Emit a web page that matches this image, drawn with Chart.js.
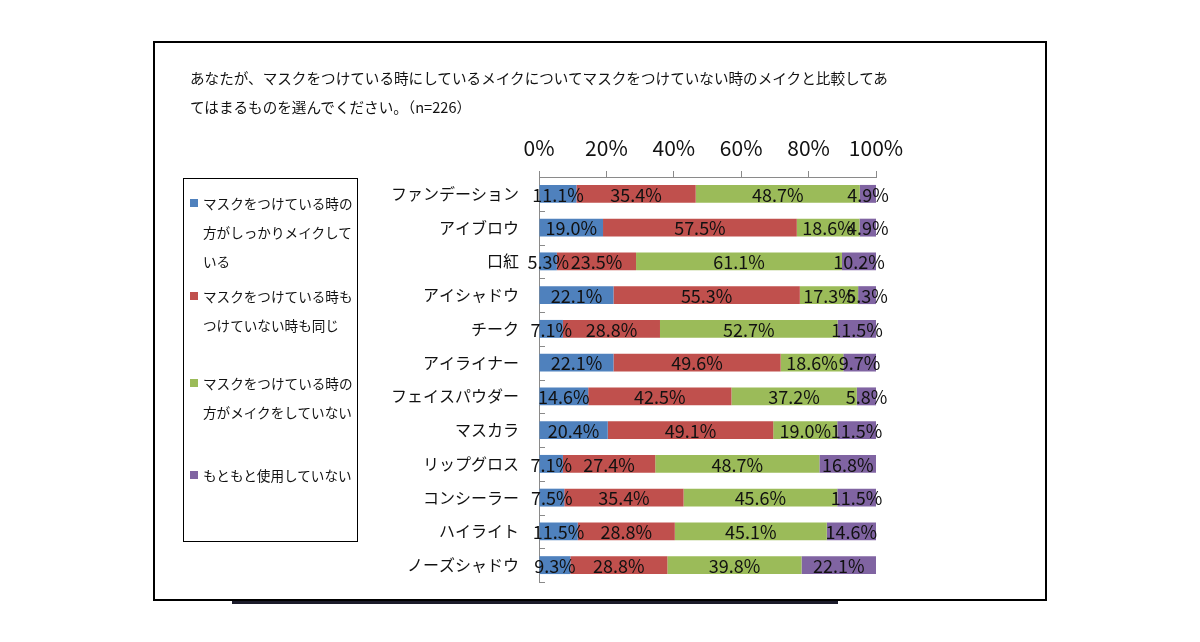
<!DOCTYPE html>
<html>
<head>
<meta charset="utf-8">
<script src="https://cdn.jsdelivr.net/npm/chart.js@4"></script>
<style>
  body { margin: 0; background: #fff; font-family: "Noto Sans CJK JP", sans-serif; }
  #wrap { position: relative; width: 1200px; height: 642px; overflow: hidden; }
  #c { position: absolute; left: 0; top: 0; }
  .frame { position: absolute; left: 153px; top: 41px; width: 890px; height: 556px; border: 2px solid #000; }
  .under { position: absolute; left: 232px; top: 601px; width: 606px; height: 3px; background: #1b1b2a; }
  .title { position: absolute; left: 190px; top: 63px; font-size: 14.6px; line-height: 29px; color: #111; white-space: nowrap; }
  .legend { position: absolute; left: 183px; top: 178px; width: 173px; height: 362px; border: 1.5px solid #000; }
  .item { position: absolute; left: 6px; width: 165px; font-size: 13.6px; line-height: 29px; color: #111; }
  .item i { display: inline-block; width: 8px; height: 8px; margin-right: 5px; vertical-align: 2px; }
  .item span { display: inline-block; width: 150px; vertical-align: top; }
</style>
</head>
<body>
<div id="wrap">
  <canvas id="c" width="1200" height="642"></canvas>
  <div class="title">あなたが、マスクをつけている時にしているメイクについてマスクをつけていない時のメイクと比較してあ<br>てはまるものを選んでください。（n=226）</div>
  <div class="legend" id="legend"></div>
  <div class="frame"></div>
  <div class="under"></div>
</div>
<script>
$ = (s) => document.querySelector(s)

// カテゴリ
var items = ['ファンデーション', 'アイブロウ', '口紅', 'アイシャドウ', 'チーク', 'アイライナー',
    'フェイスパウダー', 'マスカラ', 'リップグロス', 'コンシーラー', 'ハイライト', 'ノーズシャドウ']

// 系列名
var seriesNames = [
    'マスクをつけている時の方がしっかりメイクしている',
    'マスクをつけている時もつけていない時も同じ',
    'マスクをつけている時の方がメイクをしていない',
    'もともと使用していない'
]

// 値 (%)
var moreMakeup = [11.1, 19.0, 5.3, 22.1, 7.1, 22.1, 14.6, 20.4, 7.1, 7.5, 11.5, 9.3]
var same = [35.4, 57.5, 23.5, 55.3, 28.8, 49.6, 42.5, 49.1, 27.4, 35.4, 28.8, 28.8]
var lessMakeup = [48.7, 18.6, 61.1, 17.3, 52.7, 18.6, 37.2, 19.0, 48.7, 45.6, 45.1, 39.8]
var notUsed = [4.9, 4.9, 10.2, 5.3, 11.5, 9.7, 5.8, 11.5, 16.8, 11.5, 14.6, 22.1]

var xTicks = [0, 20, 40, 60, 80, 100]

var colors = ['#4F81BD', '#C0504D', '#9BBB59', '#8064A2']
var allValues = [moreMakeup, same, lessMakeup, notUsed]

// 凡例 (HTML)
var legendTops = [10, 103, 190, 282]
var legendLines = [
    ['マスクをつけている時の', '方がしっかりメイクして', 'いる'],
    ['マスクをつけている時も', 'つけていない時も同じ'],
    ['マスクをつけている時の', '方がメイクをしていない'],
    ['もともと使用していない']
]
seriesNames.forEach((name, i) => {
    var d = document.createElement('div')
    d.className = 'item'
    d.style.top = legendTops[i] + 'px'
    d.title = name
    d.innerHTML = `<i style="background:${colors[i]}"></i><span>${legendLines[i].join('<br>')}</span>`
    $('#legend').appendChild(d)
})

// 値ラベル
var valueLabels = {
    id: 'valueLabels',
    afterDatasetsDraw: (chart) => {
        var ctx = chart.ctx
        ctx.save()
        ctx.font = '18px "Noto Sans CJK JP", sans-serif'
        ctx.fillStyle = '#111'
        ctx.textAlign = 'center'
        ctx.textBaseline = 'middle'
        chart.data.datasets.forEach((ds, i) => {
            chart.getDatasetMeta(i).data.forEach((el, j) => {
                ctx.fillText(ds.data[j].toFixed(1) + '%', (el.x + el.base) / 2, el.y + 1)
            })
        })
        ctx.restore()
    }
}

// 縦軸の内側目盛り
var innerTicks = {
    id: 'innerTicks',
    afterDraw: (chart) => {
        var ctx = chart.ctx
        var y = chart.scales.y
        ctx.save()
        ctx.strokeStyle = '#8a8a8a'
        ctx.lineWidth = 1
        ctx.beginPath()
        for (var i = 0; i <= items.length; i++) {
            var py = Math.round(y.getPixelForValue(i - 0.5)) + 0.5
            ctx.moveTo(y.right, py)
            ctx.lineTo(y.right + 6, py)
        }
        ctx.stroke()
        ctx.restore()
    }
}

var chart = new Chart($('#c'), {
    type: 'bar',
    data: {
        labels: items,
        datasets: seriesNames.map((name, i) => ({
            label: name,
            data: allValues[i],
            backgroundColor: colors[i],
            borderWidth: 0,
            barPercentage: 0.53,
            categoryPercentage: 1
        }))
    },
    options: {
        indexAxis: 'y',
        responsive: false,
        animation: false,
        layout: { padding: { left: 379, right: 324, top: 127, bottom: 60 } },
        plugins: {
            legend: { display: false },
            tooltip: { enabled: false }
        },
        scales: {
            x: {
                position: 'top',
                stacked: true,
                min: 0,
                max: 100,
                afterBuildTicks: (s) => { s.ticks = xTicks.map(v => ({ value: v })) },
                afterFit: (s) => { s.height = 50 },
                grid: { drawOnChartArea: false, drawTicks: true, tickLength: 6, color: '#8a8a8a' },
                border: { display: true, color: '#8a8a8a' },
                ticks: {
                    padding: 10,
                    color: '#111',
                    font: { size: 21, family: '"Noto Sans CJK JP", sans-serif' },
                    callback: (v) => v + '%'
                }
            },
            y: {
                stacked: true,
                afterFit: (s) => { s.width = 160 },
                grid: { display: false, drawTicks: false },
                border: { display: true, color: '#8a8a8a' },
                ticks: {
                    padding: 20,
                    color: '#111',
                    font: { size: 16, family: '"Noto Sans CJK JP", sans-serif' }
                }
            }
        }
    },
    plugins: [valueLabels, innerTicks]
})
</script>
</body>
</html>
